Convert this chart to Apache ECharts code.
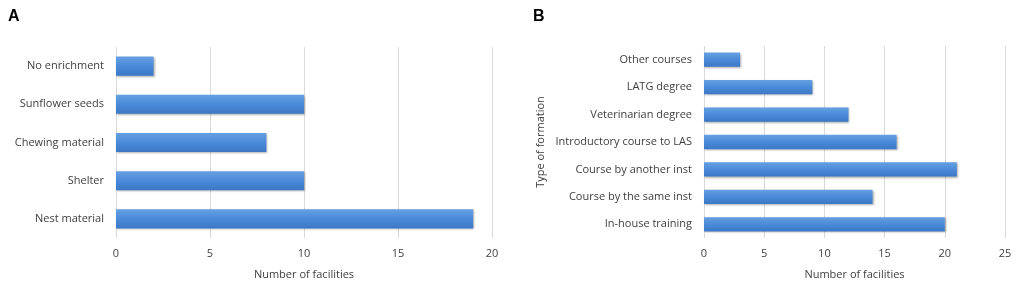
<!DOCTYPE html>
<html>
<head>
<meta charset="utf-8">
<script src="https://cdn.jsdelivr.net/npm/echarts@6/dist/echarts.min.js"></script>
<style>
  html, body { margin: 0; padding: 0; background: #fff; }
  #chart { width: 1021px; height: 285px; }
</style>
</head>
<body>
<div id="chart"></div>
<script>
// panel A: enrichment types (bottom to top as drawn)
var enrichCats = ['Nest material', 'Shelter', 'Chewing material', 'Sunflower seeds', 'No enrichment'];
var enrichVals = [19, 10, 8, 10, 2];

// panel B: type of formation (bottom to top as drawn)
var formationCats = ['In-house training', 'Course by the same inst', 'Course by another inst',
    'Introductory course to LAS', 'Veterinarian degree', 'LATG degree', 'Other courses'];
var formationVals = [20, 14, 21, 16, 12, 9, 3];

var ticksA = [0, 5, 10, 15, 20];
var ticksB = [0, 5, 10, 15, 20, 25];

var font = '"Open Sans", "Liberation Sans", sans-serif';
var txt = '#404040';

var barColor = new echarts.graphic.LinearGradient(0, 0, 0, 1, [
    { offset: 0, color: '#65a0e2' },
    { offset: 0.5, color: '#4a8ad8' },
    { offset: 1, color: '#3b78c6' }
]);

function valueAxis(idx, max) {
    return {
        gridIndex: idx,
        type: 'value',
        min: 0,
        max: max,
        interval: 5,
        name: 'Number of facilities',
        nameLocation: 'middle',
        nameGap: 31,
        nameTextStyle: { color: txt, fontSize: 11, fontFamily: font },
        axisLine: { show: false },
        axisTick: { show: false },
        axisLabel: { color: txt, fontSize: 11, fontFamily: font, margin: 10 },
        splitLine: { show: true, lineStyle: { color: '#d9d9d9', width: 1 } }
    };
}

function catAxis(idx, cats, name) {
    return {
        gridIndex: idx,
        type: 'category',
        data: cats,
        name: name,
        nameLocation: 'middle',
        nameGap: 158,
        nameRotate: 90,
        nameTextStyle: { color: txt, fontSize: 11, fontFamily: font },
        axisLine: { show: false },
        axisTick: { show: false },
        axisLabel: { color: txt, fontSize: 11, fontFamily: font, margin: 12 }
    };
}

var chart = echarts.init(document.getElementById('chart'));
chart.setOption({
    animation: false,
    title: [
        { text: 'A', left: 3, top: 4, textStyle: { fontSize: 16, fontWeight: 'bold', color: '#000', fontFamily: 'Liberation Sans, Arial, sans-serif' } },
        { text: 'B', left: 528, top: 4, textStyle: { fontSize: 16, fontWeight: 'bold', color: '#000', fontFamily: 'Liberation Sans, Arial, sans-serif' } }
    ],
    grid: [
        { left: 116, right: 529, top: 47, height: 192 },
        { left: 704, right: 16, top: 46, height: 192 }
    ],
    xAxis: [valueAxis(0, ticksA[ticksA.length - 1]), valueAxis(1, ticksB[ticksB.length - 1])],
    yAxis: [catAxis(0, enrichCats, ''), catAxis(1, formationCats, 'Type of formation')],
    series: [
        {
            type: 'bar',
            xAxisIndex: 0,
            yAxisIndex: 0,
            data: enrichVals,
            barWidth: '50%',
            itemStyle: { color: barColor, shadowColor: 'rgba(0,0,0,0.3)', shadowBlur: 2, shadowOffsetX: 1, shadowOffsetY: 1 }
        },
        {
            type: 'bar',
            xAxisIndex: 1,
            yAxisIndex: 1,
            data: formationVals,
            barWidth: '52%',
            itemStyle: { color: barColor, shadowColor: 'rgba(0,0,0,0.3)', shadowBlur: 2, shadowOffsetX: 1, shadowOffsetY: 1 }
        }
    ]
});
window.addEventListener('resize', function () { chart.resize(); });
</script>
</body>
</html>
